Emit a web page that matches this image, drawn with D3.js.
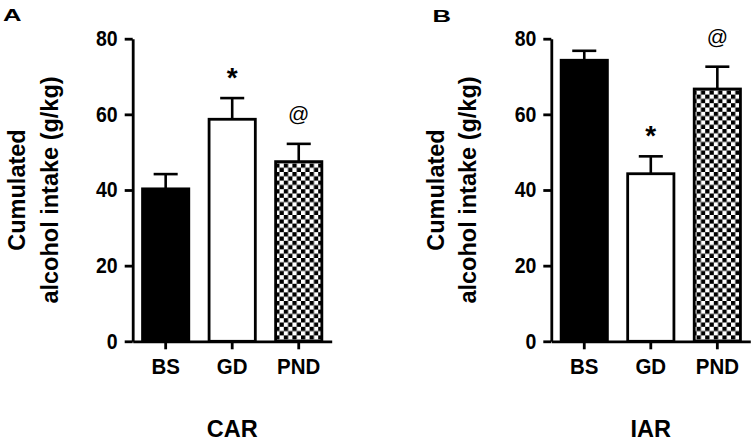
<!DOCTYPE html>
<html>
<head>
<meta charset="utf-8">
<script src="https://cdn.jsdelivr.net/npm/d3@7"></script>
<style>
  html, body { margin: 0; padding: 0; background: #fff; }
  svg { display: block; }
  text { font-family: "Liberation Sans", Arial, Helvetica, sans-serif; }
</style>
</head>
<body>
<script>
// ---- Data ----
const categories = ["BS", "GD", "PND"];
const carMeans = [40.3, 58.7, 47.5];
const carErrors = [3.9, 5.6, 4.7];
const carMarks = ["", "*", "@"];
const iarMeans = [74.3, 44.3, 66.7];
const iarErrors = [2.5, 4.6, 5.9];
const iarMarks = ["", "*", "@"];
const yTicks = [0, 20, 40, 60, 80];
const panelLetters = ["A", "B"];
const groupTitles = ["CAR", "IAR"];
const yTitleLines = ["Cumulated", "alcohol intake (g/kg)"];

const W = 756, H = 442;
const svg = d3.select("body").append("svg").attr("width", W).attr("height", H);

// checkerboard pattern
const defs = svg.append("defs");
const cs = 4.3;
const pat = defs.append("pattern").attr("id", "checker")
  .attr("patternUnits", "userSpaceOnUse")
  .attr("width", cs * 2).attr("height", cs * 2);
pat.append("rect").attr("width", cs * 2).attr("height", cs * 2).attr("fill", "#fff");
pat.append("rect").attr("x", 0).attr("y", 0).attr("width", cs).attr("height", cs).attr("fill", "#000");
pat.append("rect").attr("x", cs).attr("y", cs).attr("width", cs).attr("height", cs).attr("fill", "#000");

const fills = ["#000", "#fff", "url(#checker)"];

const panels = [
  { axisX: 132.7, letter: panelLetters[0], letterX: 3, letterY: 21, title: groupTitles[0], means: carMeans, errs: carErrors, marks: carMarks },
  { axisX: 551.3, letter: panelLetters[1], letterX: 432.5, letterY: 22, title: groupTitles[1], means: iarMeans, errs: iarErrors, marks: iarMarks }
];

const y = d3.scaleLinear().domain([0, 80]).range([341.3, 38.7]);
const plotW = 199;
const sy = 1.12;

panels.forEach(p => {
  const g = svg.append("g");
  const x = d3.scaleBand().domain(categories)
    .range([p.axisX, p.axisX + plotW])
    .paddingInner(0.305).paddingOuter(0.148);

  // bars
  g.selectAll("rect.bar").data(categories).join("rect")
    .attr("class", "bar")
    .attr("x", d => x(d))
    .attr("width", x.bandwidth())
    .attr("y", (d, i) => y(p.means[i]))
    .attr("height", (d, i) => y(0) - y(p.means[i]))
    .attr("fill", (d, i) => fills[i])
    .attr("stroke", "#000")
    .attr("stroke-width", 2.8);

  // error bars
  const capW = x.bandwidth() * 0.52;
  categories.forEach((c, i) => {
    const cx = x(c) + x.bandwidth() / 2;
    const top = y(p.means[i] + p.errs[i]);
    g.append("line").attr("x1", cx).attr("x2", cx)
      .attr("y1", y(p.means[i])).attr("y2", top)
      .attr("stroke", "#000").attr("stroke-width", 2.6);
    g.append("line").attr("x1", cx - capW / 2).attr("x2", cx + capW / 2)
      .attr("y1", top).attr("y2", top)
      .attr("stroke", "#000").attr("stroke-width", 2.6);
    const m = p.marks[i];
    if (m === "*") {
      g.append("text").attr("x", cx).attr("y", top - 11)
        .attr("text-anchor", "middle").attr("font-size", 28).attr("font-weight", "bold")
        .text(m);
    } else if (m === "@") {
      g.append("text").attr("x", cx).attr("y", top - 23)
        .attr("text-anchor", "middle").attr("font-size", 21)
        .attr("fill", "#000")
        .text(m);
    }
  });

  // y axis
  const ya = g.append("g").attr("transform", `translate(${p.axisX},0)`)
    .call(d3.axisLeft(y).tickValues(yTicks).tickSize(8).tickSizeOuter(0).tickPadding(7));
  ya.select(".domain").attr("stroke-width", 2.8);
  ya.selectAll(".tick line").attr("stroke-width", 2.8);
  ya.selectAll(".tick text").attr("font-size", 19.5).attr("font-weight", "bold")
    .attr("font-family", '"Liberation Sans", Arial, sans-serif').attr("fill", "#000")
    .attr("transform", `scale(1,${sy})`);

  // x axis
  const xa = g.append("g").attr("transform", `translate(0,${y(0)})`)
    .call(d3.axisBottom(x).tickSize(8).tickSizeOuter(0).tickPadding(8));
  xa.select(".domain").attr("stroke-width", 2.8);
  xa.selectAll(".tick line").attr("stroke-width", 2.8);
  xa.selectAll(".tick text").attr("font-size", 20.5).attr("font-weight", "bold")
    .attr("font-family", '"Liberation Sans", Arial, sans-serif').attr("fill", "#000")
    .attr("y", 14).attr("dy", "0.72em")
    .attr("transform", `scale(1,${sy})`);

  // y title
  const yMid = (y(0) + y(80)) / 2;
  const offs = [-107.5, -75];
  yTitleLines.forEach((t, k) => {
    g.append("text")
      .attr("transform", `translate(${p.axisX + offs[k]},${yMid}) rotate(-90)`)
      .attr("text-anchor", "middle")
      .attr("font-size", 23.5).attr("font-weight", "bold")
      .text(t);
  });

  // group title
  g.append("text").attr("x", p.axisX + plotW / 2).attr("y", 436.7)
    .attr("text-anchor", "middle").attr("font-size", 23.5).attr("font-weight", "bold")
    .text(p.title);

  // panel letter
  g.append("text").attr("x", p.letterX).attr("y", p.letterY)
    .attr("font-size", 18).attr("font-weight", "bold")
    .attr("textLength", 18.5).attr("lengthAdjust", "spacingAndGlyphs")
    .attr("transform", `translate(0,${p.letterY}) scale(1,0.95) translate(0,${-p.letterY})`)
    .text(p.letter);
});
</script>
</body>
</html>
